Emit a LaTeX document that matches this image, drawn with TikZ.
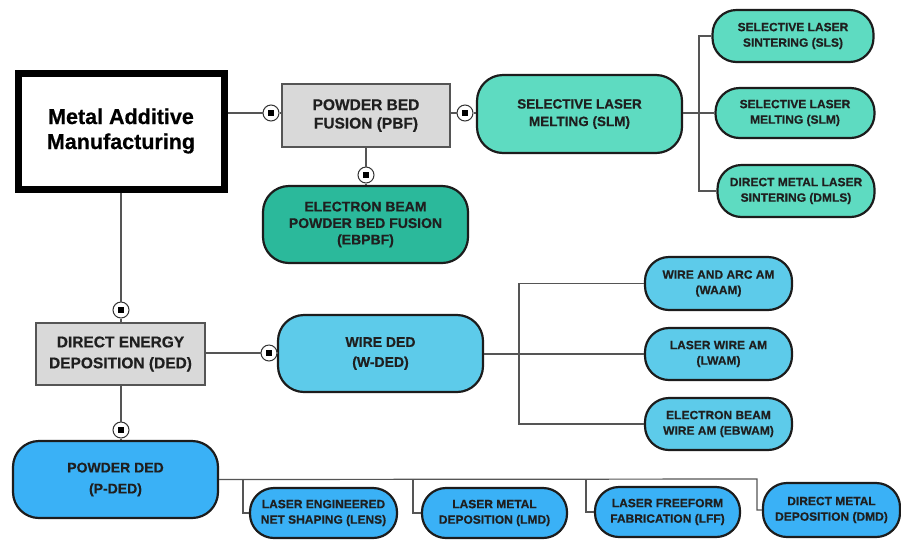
\documentclass[tikz,border=0pt]{standalone}
\usepackage{fontspec}
\setmainfont{Liberation Sans}[BoldFeatures={FakeBold=0.6}]
\usetikzlibrary{calc}
\definecolor{gfill}{HTML}{D9D9D9}
\definecolor{gline}{HTML}{555555}
\definecolor{dteal}{HTML}{2BB99B}
\definecolor{lteal}{HTML}{5EDBC1}
\definecolor{lblue}{HTML}{5DCBEA}
\definecolor{mblue}{HTML}{3AB1F6}
\definecolor{edge}{HTML}{1C1C1C}
\begin{document}
\begin{tikzpicture}[x=1pt,y=-1pt,
  txt/.style={align=center,font=\bfseries\fontsize{12}{15.5}\selectfont,text=black!88,inner sep=0pt},
  gbox/.style={txt,draw=gline,fill=gfill,line width=1.2pt},
  rbox/.style={txt,draw=edge,line width=2.2pt,rounded corners=26pt},
  sbox/.style={txt,draw=edge,line width=2.2pt,rounded corners=24pt},
  conn/.style={draw=gline,line width=1.2pt},
  dotc/.style={circle,draw=black!80,fill=white,line width=1pt,minimum size=16pt,inner sep=0pt},
]
\useasboundingbox (0,0) rectangle (901,539);
\fill[white] (0,0) rectangle (901,539);

% nodes
\node[draw=black,line width=7pt,minimum width=206pt,minimum height=116pt,align=center,inner sep=0pt,
  font=\bfseries\fontsize{21.5}{25}\selectfont] (main) at (121,131) {Metal Additive\\Manufacturing};
\node[gbox,minimum width=168pt,minimum height=63pt,font=\bfseries\fontsize{15.5}{18.5}\selectfont] (pbf) at (366,115.5) {POWDER BED\\FUSION (PBF)};
\node[rbox,fill=dteal,minimum width=205pt,minimum height=77pt,font=\bfseries\fontsize{14}{16.5}\selectfont] (ebpbf) at (365.5,224.5) {ELECTRON BEAM\\POWDER BED FUSION\\(EBPBF)};
\node[rbox,fill=lteal,minimum width=205pt,minimum height=78pt,font=\bfseries\fontsize{13.5}{17.5}\selectfont] (slm) at (579.5,114) {SELECTIVE LASER\\MELTING (SLM)};
\node[sbox,fill=lteal,minimum width=161pt,minimum height=52pt] (sls) at (793,36) {SELECTIVE LASER\\SINTERING (SLS)};
\node[sbox,fill=lteal,minimum width=159pt,minimum height=50pt] (slm2) at (795,113) {SELECTIVE LASER\\MELTING (SLM)};
\node[sbox,fill=lteal,minimum width=157pt,minimum height=52pt] (dmls) at (796,191) {DIRECT METAL LASER\\SINTERING (DMLS)};

\node[gbox,minimum width=169pt,minimum height=62pt,font=\bfseries\fontsize{15.5}{21}\selectfont] (ded) at (120.5,354) {DIRECT ENERGY\\DEPOSITION (DED)};
\node[rbox,fill=lblue,minimum width=205pt,minimum height=77pt,font=\bfseries\fontsize{14}{20}\selectfont] (wded) at (380.5,353.5) {WIRE DED\\(W-DED)};
\node[sbox,fill=lblue,minimum width=147pt,minimum height=53pt] (waam) at (718.5,283.5) {WIRE AND ARC AM\\(WAAM)};
\node[sbox,fill=lblue,minimum width=147pt,minimum height=52pt] (lwam) at (718.5,354) {LASER WIRE AM\\(LWAM)};
\node[sbox,fill=lblue,minimum width=147pt,minimum height=52pt] (ebwam) at (718.5,424) {ELECTRON BEAM\\WIRE AM (EBWAM)};

\node[rbox,fill=mblue,minimum width=205pt,minimum height=77pt,font=\bfseries\fontsize{14}{21}\selectfont] (pded) at (115.5,479.5) {POWDER DED\\(P-DED)};
\node[sbox,fill=mblue,minimum width=147pt,minimum height=50pt] (lens) at (323.5,513) {LASER ENGINEERED\\NET SHAPING (LENS)};
\node[sbox,fill=mblue,minimum width=145pt,minimum height=50pt] (lmd) at (494.5,513) {LASER METAL\\DEPOSITION (LMD)};
\node[sbox,fill=mblue,minimum width=145pt,minimum height=50pt] (lff) at (667.5,512) {LASER FREEFORM\\FABRICATION (LFF)};
\node[sbox,fill=mblue,minimum width=137pt,minimum height=54pt] (dmd) at (831.5,510) {DIRECT METAL\\DEPOSITION (DMD)};

% junction coordinates
\coordinate (j1) at (699,113);
\coordinate (j2) at (519,354);
\coordinate (j3) at (757,479);
\coordinate (b1) at (243,479);
\coordinate (b2) at (413,479);
\coordinate (b3) at (586,479);

\node[dotc] (d1) at (271,113) {};
\node[dotc] (d2) at (465,113) {};
\node[dotc] (d3) at (366,175) {};
\node[dotc] (d4) at (121,310) {};
\node[dotc] (d5) at (269,353) {};
\node[dotc] (d6) at (121,430) {};

\draw[conn] (d1 -| main.east) -- (d1.west);
\draw[conn] (d1.east) -- (d1 -| pbf.west);
\draw[conn] (d2 -| pbf.east) -- (d2.west);
\draw[conn] (d2.east) -- (d2 -| slm.west);
\draw[conn] (d3 |- pbf.south) -- (d3.north);
\draw[conn] (d3.south) -- (d3 |- ebpbf.north);
\draw[conn] (slm2.west -| slm.east) -- (slm2.west);
\draw[conn] (sls.west) -- (sls.west -| j1) -- (dmls.west -| j1) -- (dmls.west);

\draw[conn] (d4 |- main.south) -- (d4.north);
\draw[conn] (d4.south) -- (d4 |- ded.north);
\draw[conn] (d5 -| ded.east) -- (d5.west);
\draw[conn] (d5.east) -- (d5 -| wded.west);
\draw[conn] (lwam.west -| wded.east) -- (lwam.west);
\draw[conn] (waam.west) -- (waam.west -| j2) -- (ebwam.west -| j2) -- (ebwam.west);
\draw[conn] (d6 |- ded.south) -- (d6.north);
\draw[conn] (d6.south) -- (d6 |- pded.north);

\draw[conn] (pded.east) -- (j3) |- (dmd.west);
\draw[conn] (b1) |- (lens.west);
\draw[conn] (b2) |- (lmd.west);
\draw[conn] (b3) |- (lff.west);

\foreach \d in {d1,d2,d3,d4,d5,d6} \fill[black] ($(\d)+(-2.6,-2.6)$) rectangle ($(\d)+(2.6,2.6)$);
\end{tikzpicture}
\end{document}
